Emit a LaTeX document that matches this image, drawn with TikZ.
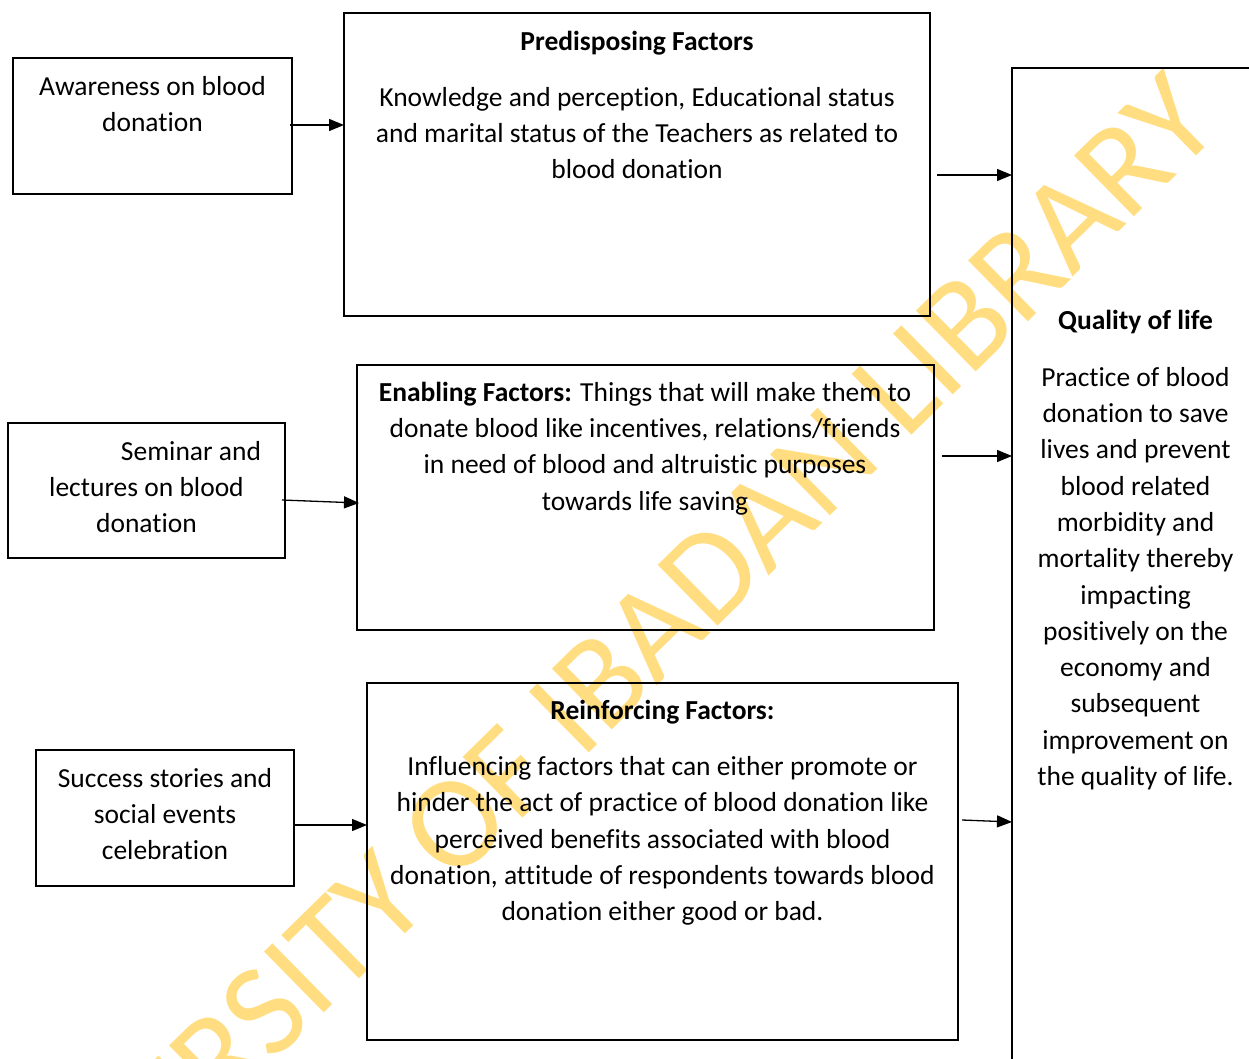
\documentclass[tikz,border=0pt]{standalone}
\usepackage{fontspec}
\setmainfont{Carlito}[Ligatures=CommonOff]
\usetikzlibrary{arrows.meta,calc}
\definecolor{wmyellow}{RGB}{255,221,128}
\begin{document}
\begin{tikzpicture}[x=1pt,y=-1pt,
  box/.style={draw, line width=2.2pt, anchor=north west, outer sep=0pt, inner sep=0pt},
  txt/.style={anchor=north, inner sep=0pt, align=center, font=\fontsize{27.5}{36.3}\selectfont},
  wm/.style={text=wmyellow, inner sep=0pt, font=\fontsize{133}{160}\selectfont},
  arr/.style={line width=1.3pt, -{Triangle[length=15pt,width=12pt]}}]
\useasboundingbox (0,0) rectangle (1249,1059);
\clip (0,0) rectangle (1249,1059);
% watermark
\node[wm, rotate=44.5, anchor=base] (W) at (600,742) {UNIVERSITY OF IBADAN LIBRARY};
% boxes
\node[box, minimum width=279pt, minimum height=136pt] (A) at (13,58) {};
\node[box, minimum width=586pt, minimum height=303pt] (P) at (344,13) {};
\node[box, minimum width=300pt, minimum height=1100pt] (Q) at (1012,68) {};
\node[box, minimum width=277pt, minimum height=135pt] (S) at (8,423) {};
\node[box, minimum width=577pt, minimum height=265pt] (E) at (357,365) {};
\node[box, minimum width=258pt, minimum height=136pt] (U) at (36,750) {};
\node[box, minimum width=591pt, minimum height=357pt] (R) at (367,683) {};
% texts
\node[txt] (At) at (152.5,70) {\rule{0pt}{25pt}Awareness on blood\\donation};
\node[txt] (Pt) at (637,25) {\rule{0pt}{25pt}\textbf{Predisposing Factors}\\[19.9pt]
  Knowledge and perception, Educational status\\
  and marital status of the Teachers as related to\\
  blood donation};
\node[txt] (Qt) at (1135.5,304) {\rule{0pt}{25pt}\textbf{Quality of life}\\[20.7pt]
  Practice of blood\\donation to save\\lives and prevent\\blood related\\morbidity and\\
  mortality thereby\\impacting\\positively on the\\economy and\\subsequent\\
  improvement on\\the quality of life.};
\node[txt] (St) at (146.5,435) {\rule{0pt}{25pt}\hspace*{89pt}Seminar and\\lectures on blood\\donation};
\node[txt] (Et) at (645,376) {\rule{0pt}{25pt}\textbf{Enabling Factors:} Things that will make them to\\
  donate blood like incentives, relations/friends\\
  in need of blood and altruistic purposes\\
  towards life saving};
\node[txt] (Ut) at (165,762) {\rule{0pt}{25pt}Success stories and\\social events\\celebration};
\node[txt] (Rt) at (662.5,694) {\rule{0pt}{25pt}\textbf{Reinforcing Factors:}\\[19.9pt]
  Influencing factors that can either promote or\\
  hinder the act of practice of blood donation like\\
  perceived benefits associated with blood\\
  donation, attitude of respondents towards blood\\
  donation either good or bad.};
% connectors
\coordinate (a0) at ($(A.east)+(-2,-1)$);
\draw[arr] (a0) -- (P.west |- a0);
\coordinate (s0) at ($(S.east)+(-3,9.5)$);
\draw[arr] (s0) -- ($(E.west)+(2,5.5)$);
\coordinate (u0) at ($(U.east)+(-1,7)$);
\draw[arr] (u0) -- (R.west |- u0);
\coordinate (p0) at ($(P.east)+(7,10.5)$);
\draw[arr] (p0) -- (Q.west |- p0);
\coordinate (e0) at ($(E.east)+(8,-41.5)$);
\draw[arr] (e0) -- (Q.west |- e0);
\coordinate (r0) at ($(R.east)+(4,-41.5)$);
\draw[arr] (r0) -- ($(Q.west |- r0)+(0,2)$);
\end{tikzpicture}
\end{document}
